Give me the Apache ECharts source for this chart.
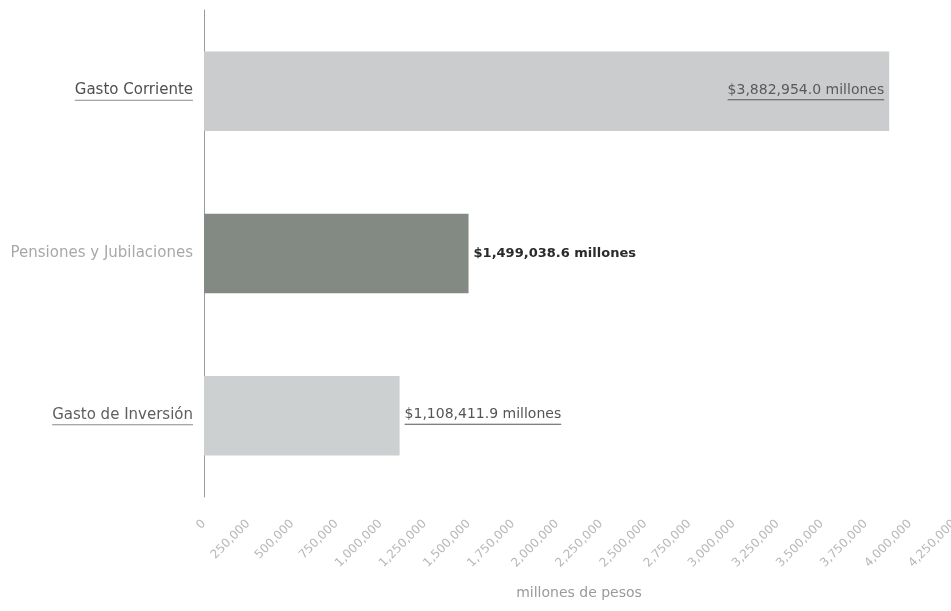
<!DOCTYPE html>
<html>
<head>
<meta charset="utf-8">
<script src="https://cdn.jsdelivr.net/npm/echarts@6/dist/echarts.min.js"></script>
<style>html,body{margin:0;padding:0;background:#fff;}#c{width:951px;height:611px;}</style>
</head>
<body>
<div id="c"></div>
<script>
const categories = ['Gasto Corriente', 'Pensiones y Jubilaciones', 'Gasto de Inversión'];
const values = [3882954.0, 1499038.6, 1108411.9];
const underlined = [true, false, true];
const barColors = ['#cacccd', '#838983', '#cdd0d0'];
const labelColors = ['#5a5a5a', '#2a2a2a', '#555555'];
const catLabelColors = ['#4f4f4f', '#a8a8a8', '#5e5e5e'];
const labelPositions = ['insideRight', 'right', 'right'];
const axisMax = 4250000;
const axisInterval = 250000;
const axisName = 'millones de pesos';

function fmtMoney(v) {
  return '$' + v.toLocaleString('en-US', {minimumFractionDigits: 1, maximumFractionDigits: 1}) + ' millones';
}

const FONT = 'DejaVu Sans';
const catRich = {u: {width: '100%', height: 1, lineHeight: 2, backgroundColor: '#8a8a8a'}};
categories.forEach((c, i) => {
  catRich['c' + i] = {color: catLabelColors[i], fontSize: 15, fontFamily: FONT, lineHeight: 18};
});

const chart = echarts.init(document.getElementById('c'));
chart.setOption({
  backgroundColor: '#ffffff',
  animation: false,
  grid: {left: 204, right: -3, top: 10, bottom: 114, containLabel: false, outerBoundsMode: 'none'},
  xAxis: {
    type: 'value',
    min: 0,
    max: axisMax,
    interval: axisInterval,
    name: axisName,
    nameLocation: 'middle',
    nameGap: 89,
    nameTextStyle: {color: '#9a9a9a', fontSize: 14, fontFamily: FONT},
    axisLine: {show: false},
    axisTick: {show: false},
    splitLine: {show: false},
    axisLabel: {
      rotate: 45,
      margin: 25,
      color: '#b8b8b8',
      fontSize: 12,
      fontFamily: FONT,
      formatter: v => v.toLocaleString('en-US')
    }
  },
  yAxis: {
    type: 'category',
    inverse: true,
    data: categories,
    axisLine: {show: true, lineStyle: {color: '#9a9a9a', width: 1}},
    axisTick: {show: false},
    axisLabel: {
      margin: 11,
      fontSize: 15,
      fontFamily: FONT,
      formatter: (v, i) => '{c' + i + '|' + v + '}' + (underlined[i] ? '\n{u|}' : ''),
      rich: catRich
    }
  },
  series: [{
    type: 'bar',
    barWidth: '49%',
    data: values.map((v, i) => ({
      value: v,
      itemStyle: {color: barColors[i]},
      label: {
        show: true,
        position: labelPositions[i],
        distance: 5,
        formatter: p => '{t|' + fmtMoney(p.value) + '}' + (underlined[i] ? '\n{u|}' : ''),
        rich: {
          t: {
            color: labelColors[i],
            fontWeight: i === 1 ? 'bold' : 'normal',
            fontSize: i === 1 ? 13 : 14,
            fontFamily: FONT,
            lineHeight: 17
          },
          u: {width: '100%', height: 1, lineHeight: 2, backgroundColor: labelColors[i]}
        }
      }
    }))
  }]
});
</script>
</body>
</html>
